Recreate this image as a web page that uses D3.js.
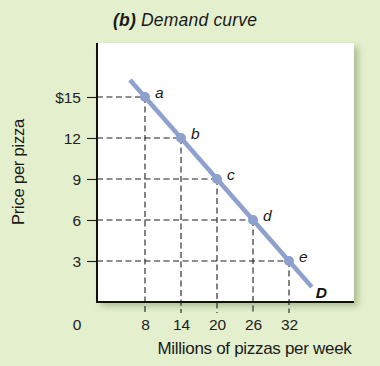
<!DOCTYPE html>
<html>
<head>
<meta charset="utf-8">
<script src="https://cdn.jsdelivr.net/npm/d3@7"></script>
<style>
  html, body { margin: 0; padding: 0; background: #e3efcd; }
  svg { display: block; font-family: "Liberation Sans", Arial, Helvetica, sans-serif; }
  svg text { font-family: "Liberation Sans", Arial, Helvetica, sans-serif; }
</style>
</head>
<body>
<svg id="chart" width="380" height="366"></svg>
<script>
// ---- data ----
const pointLabels = ["a", "b", "c", "d", "e"];
const quantities = [8, 14, 20, 26, 32];          // millions of pizzas per week
const prices = [15, 12, 9, 6, 3];                 // price per pizza
const priceTickLabels = ["$15", "12", "9", "6", "3"];
const qtyTickLabels = ["8", "14", "20", "26", "32"];
const curveQ = [5.5, 35.8];                        // demand line extent
const curveP = [16.25, 1.1];
const curveName = "D";
const titleBold = "(b)";
const titleRest = " Demand curve";
const xTitle = "Millions of pizzas per week";
const yTitle = "Price per pizza";
const originLabel = "0";

// ---- layout ----
const svg = d3.select("#chart");
const W = 380, H = 366;
const x = d3.scaleLinear().domain([0, 42.83]).range([97, 354]);
const y = d3.scaleLinear().domain([0, 18.95]).range([302, 43]);

svg.append("rect").attr("width", W).attr("height", H).attr("fill", "#e3efcd");

const defs = svg.append("defs");
const f = defs.append("filter").attr("id", "shadow").attr("x", "-10%").attr("y", "-10%").attr("width", "130%").attr("height", "130%");
f.append("feDropShadow").attr("dx", 4).attr("dy", 4).attr("stdDeviation", 3)
  .attr("flood-color", "#7f9260").attr("flood-opacity", 0.55);

// plot area
svg.append("rect")
  .attr("x", x(0)).attr("y", y.range()[1])
  .attr("width", x.range()[1] - x(0)).attr("height", y(0) - y.range()[1])
  .attr("fill", "#ffffff").attr("filter", "url(#shadow)");

const dash = "6,3.5";
const ink = "#1e1e1e";
const pts = quantities.map((q, i) => ({ q, p: prices[i], lab: pointLabels[i] }));

// guide lines
svg.append("g").selectAll("line.h").data(pts).join("line")
  .attr("x1", x(0)).attr("x2", d => x(d.q))
  .attr("y1", d => y(d.p)).attr("y2", d => y(d.p))
  .attr("stroke", ink).attr("stroke-width", 1.1).attr("stroke-dasharray", dash);
svg.append("g").selectAll("line.v").data(pts).join("line")
  .attr("x1", d => x(d.q)).attr("x2", d => x(d.q))
  .attr("y1", d => y(d.p)).attr("y2", y(0) + 11)
  .attr("stroke", ink).attr("stroke-width", 1.1).attr("stroke-dasharray", dash);

// axes
const yAxis = d3.axisLeft(y).tickValues(prices).tickFormat((d, i) => priceTickLabels[i])
  .tickSize(10).tickPadding(6);
const gy = svg.append("g").attr("transform", `translate(${x(0)},0)`).call(yAxis);
gy.attr("font-size", null).attr("font-family", null);
gy.select(".domain").remove();
gy.selectAll(".tick line").attr("stroke", ink).attr("stroke-width", 1.1);
gy.selectAll(".tick text").style("font-size", "15.5px").attr("fill", "#222").attr("dy", "0.36em");

const xAxis = d3.axisBottom(x).tickValues(quantities).tickFormat((d, i) => qtyTickLabels[i])
  .tickSize(0).tickPadding(17);
const gx = svg.append("g").attr("transform", `translate(0,${y(0)})`).call(xAxis);
gx.attr("font-size", null).attr("font-family", null);
gx.select(".domain").remove();
gx.selectAll(".tick text").style("font-size", "15.5px").attr("fill", "#222");

svg.append("text").attr("x", x(0) - 20).attr("y", y(0) + 28)
  .attr("text-anchor", "middle").style("font-size", "15.5px").attr("fill", "#222").text(originLabel);

// axis lines
svg.append("line").attr("x1", x(0)).attr("x2", x(0)).attr("y1", y.range()[1]).attr("y2", y(0) + 1)
  .attr("stroke", "#111").attr("stroke-width", 2);
svg.append("line").attr("x1", x(0) - 1).attr("x2", x.range()[1]).attr("y1", y(0)).attr("y2", y(0))
  .attr("stroke", "#111").attr("stroke-width", 2);

// demand curve
const lineGen = d3.line().x(d => x(d[0])).y(d => y(d[1]));
svg.append("path").datum(curveQ.map((q, i) => [q, curveP[i]]))
  .attr("d", lineGen).attr("fill", "none").attr("stroke", "#8ea0cd").attr("stroke-width", 4.5);

svg.append("g").selectAll("circle").data(pts).join("circle")
  .attr("cx", d => x(d.q)).attr("cy", d => y(d.p)).attr("r", 5).attr("fill", "#8ea0cd");

svg.append("g").selectAll("text").data(pts).join("text")
  .attr("x", d => x(d.q) + 10).attr("y", d => y(d.p) + 1)
  .style("font-size", "15.5px").attr("font-style", "italic").attr("fill", "#1a1a1a")
  .text(d => d.lab);

svg.append("text").attr("x", x(curveQ[1]) + 4).attr("y", y(curveP[1]) + 11)
  .style("font-size", "15.5px").attr("font-style", "italic").attr("font-weight", "bold").attr("fill", "#111")
  .text(curveName);

// titles
const t = svg.append("text").attr("x", 113).attr("y", 26).style("font-size", "17.5px")
  .attr("font-style", "italic").attr("letter-spacing", 0.2).attr("fill", "#1a1a1a");
t.append("tspan").attr("font-weight", "bold").text(titleBold);
t.append("tspan").text(titleRest);

svg.append("text").attr("x", 254.5).attr("y", 354).attr("text-anchor", "middle")
  .style("font-size", "17px").attr("letter-spacing", -0.3).attr("fill", "#1a1a1a").text(xTitle);

svg.append("text").attr("transform", "translate(24,172) rotate(-90)").attr("text-anchor", "middle")
  .style("font-size", "16.5px").attr("letter-spacing", -0.2).attr("fill", "#1a1a1a").text(yTitle);
</script>
</body>
</html>
